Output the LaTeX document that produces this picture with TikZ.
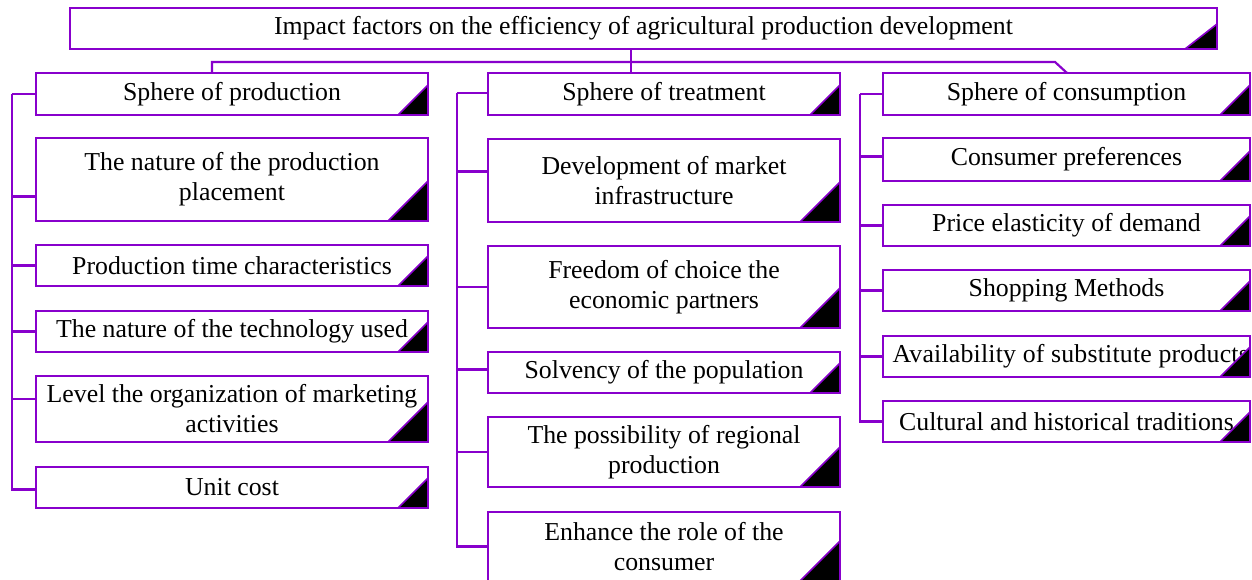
\documentclass[tikz,border=0pt]{standalone}
\usepackage{fontspec}
\setmainfont{Liberation Serif}
\definecolor{boxc}{RGB}{136,0,204}
\newcommand\boxfont{\fontsize{25.8}{30}\selectfont}
% black corner wedge in the lower right of a box: name, width, height
\newcommand\notch[3]{%
  \filldraw[fill=black,draw=boxc,line width=1.6pt,line join=miter]
    ([xshift=-#2pt]#1.south east) -- (#1.south east) -- ([yshift=#3pt]#1.south east) -- cycle;}
\begin{document}
\begin{tikzpicture}[x=1pt,y=-1pt,
  box/.style={draw=boxc,line width=2.6pt,fill=white,inner sep=0pt,outer sep=0pt,
    align=center,font=\boxfont,text=black},
  link/.style={draw=boxc,line width=2.2pt}]
\useasboundingbox[fill=white] (0,0) rectangle (1252,580);

% root
\node[box,minimum width=1147pt,minimum height=41pt] (top) at (643.5,28.5)
  {Impact factors on the efficiency of agricultural production development};

% sphere of production
\node[box,minimum width=392pt,minimum height=42pt] (prod) at (232,94) {Sphere of production};
\node[box,minimum width=392pt,minimum height=83pt] (place) at (232,179.5) {The nature of the production\\placement};
\node[box,minimum width=392pt,minimum height=41pt] (ptime) at (232,265.5) {Production time characteristics};
\node[box,minimum width=392pt,minimum height=41pt] (tech) at (232,331.5) {The nature of the technology used};
\node[box,minimum width=392pt,minimum height=66pt] (level) at (232,409) {Level the organization of marketing\\activities};
\node[box,minimum width=392pt,minimum height=41pt] (unit) at (232,487.5) {Unit cost};

% sphere of treatment
\node[box,minimum width=352pt,minimum height=42pt] (treat) at (664,94) {Sphere of treatment};
\node[box,minimum width=352pt,minimum height=83pt] (dev) at (664,180.5) {Development of market\\infrastructure};
\node[box,minimum width=352pt,minimum height=82pt] (free) at (664,287) {Freedom of choice the\\economic partners};
\node[box,minimum width=352pt,minimum height=41pt] (solv) at (664,372.5) {Solvency of the population};
\node[box,minimum width=352pt,minimum height=70pt] (poss) at (664,452) {The possibility of regional\\production};
\node[box,minimum width=352pt,minimum height=69pt] (enh) at (664,546.5) {Enhance the role of the\\consumer};

% sphere of consumption
\node[box,minimum width=367pt,minimum height=42pt] (cons) at (1066.5,94) {Sphere of consumption};
\node[box,minimum width=367pt,minimum height=43pt] (pref) at (1066.5,159.5) {Consumer preferences};
\node[box,minimum width=367pt,minimum height=41pt] (price) at (1066.5,225.5) {Price elasticity of demand};
\node[box,minimum width=367pt,minimum height=41pt] (shop) at (1066.5,290.5) {Shopping Methods};
\node[box,minimum width=367pt,minimum height=41pt] (avail) at (1066.5,356.5)
  {\makebox[348pt][l]{\addfontfeature{LetterSpace=0.8}Availability of substitute products}};
\node[box,minimum width=367pt,minimum height=41pt] (cult) at (1066.5,421.5) {Cultural and historical traditions};

% corner wedges
\notch{top}{32}{25}
\foreach \n in {prod,ptime,tech,unit,treat,solv,cons,pref,price,shop,avail,cult}{\notch{\n}{30}{30}}
\foreach \n in {place,level,dev,free,poss,enh}{\notch{\n}{40}{40}}

% root to the three spheres
\coordinate (hub) at (631,62);
\coordinate (hl) at (212,62);
\coordinate (hr) at (1055,62);
\coordinate (cj) at (1067,73);
\draw[link] (top.south -| hub) -- (hub |- treat.north);
\draw[link] (hl |- prod.north) -- (hl) -- (hr) -- (cj);

% spine of the production column
\draw[link] (prod.west) -- ++(-24,0) coordinate (ls);
\draw[link] (ls) |- ([yshift=-2pt]unit.west);
\draw[link] ([yshift=-17pt]place.west) -- ([yshift=-17pt]place.west -| ls);
\draw[link] (ptime.west) -- (ptime.west -| ls);
\draw[link] (tech.west) -- (tech.west -| ls);
\draw[link] ([yshift=10pt]level.west) -- ([yshift=10pt]level.west -| ls);

% spine of the treatment column
\draw[link] ([yshift=1pt]treat.west) -- ++(-31,0) coordinate (ms);
\draw[link] (ms) |- (enh.west);
\draw[link] ([yshift=9pt]dev.west) -- ([yshift=9pt]dev.west -| ms);
\draw[link] (free.west) -- (free.west -| ms);
\draw[link] ([yshift=3pt]solv.west) -- ([yshift=3pt]solv.west -| ms);
\draw[link] (poss.west) -- (poss.west -| ms);

% spine of the consumption column
\draw[link] (cons.west) -- ++(-23,0) coordinate (rs);
\draw[link] (rs) |- (cult.west);
\draw[link] ([yshift=3pt]pref.west) -- ([yshift=3pt]pref.west -| rs);
\draw[link] (price.west) -- (price.west -| rs);
\draw[link] (shop.west) -- (shop.west -| rs);
\draw[link] (avail.west) -- (avail.west -| rs);
\end{tikzpicture}
\end{document}
